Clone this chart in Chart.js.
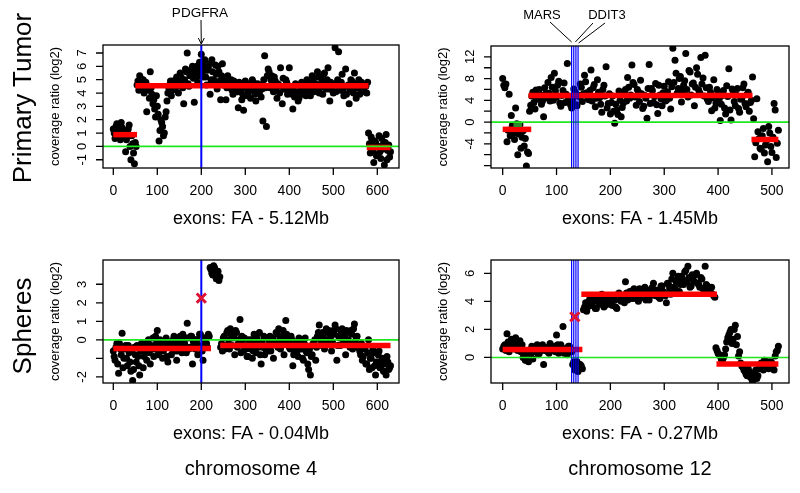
<!DOCTYPE html>
<html>
<head>
<meta charset="utf-8">
<script src="https://cdn.jsdelivr.net/npm/chart.js@4.4.1/dist/chart.umd.min.js"></script>
<style>
  body { margin: 0; background: #fff; }
  #fig { position: relative; width: 800px; height: 493px; background: #fff;
         font-family: "Liberation Sans", Arial, Helvetica, sans-serif; color: #000; }
  #fig canvas { position: absolute; left: 0; top: 0; }
  .lab { position: absolute; white-space: nowrap; transform: translate(-50%, -50%); line-height: 1; }
  .rot { transform: translate(-50%, -50%) rotate(-90deg); }
</style>
</head>
<body>
<div id="fig">
  <canvas id="p1" width="800" height="493"></canvas>
  <canvas id="p2" width="800" height="493"></canvas>
  <canvas id="p3" width="800" height="493"></canvas>
  <canvas id="p4" width="800" height="493"></canvas>
  <div class="lab rot" style="left:22px;top:98px;font-size:26px">Primary Tumor</div>
  <div class="lab rot" style="left:22px;top:326px;font-size:26px">Spheres</div>
  <div class="lab" style="left:251px;top:468px;font-size:20px">chromosome 4</div>
  <div class="lab" style="left:640px;top:468px;font-size:20px">chromosome 12</div>
</div>
<script>
// values: "A" arrays sit on exons 0,4,8,... and "B" arrays on exons 2,6,10,...
const EXON_STEP = 4;

const tumorChr4A = [
  1.3, 0.6, 1.7, 1.0, 0.5, 1.4, 0.8, -0.4, 1.2, 1.6, -1.0, 0.2, -1.3, 0.0,
  4.9, 5.3, 4.4, 5.0, 4.7, 2.6, 4.2, 5.6, 3.9, 3.5, 2.2, 3.0, 0.4, 2.0, 1.5, 1.0, 2.6,
  4.0, 4.6, 3.8, 4.9, 4.3, 5.2, 4.0, 5.5, 4.7, 3.2, 5.8, 7.0, 4.5, 5.4, 6.0, 3.3, 5.7, 4.8, 6.3,
  6.9, 5.2, 6.5, 4.6, 5.9, 3.9, 6.5, 5.0, 6.1, 4.3, 5.6, 3.5, 6.2, 4.7, 3.5,
  5.3, 4.4, 5.0, 3.9, 4.8, 4.1, 2.9, 4.6, 3.5, 2.7,
  4.9, 3.8, 4.5, 3.6, 5.0, 4.2, 3.4, 4.7, 4.0, 3.7, 1.9, 6.8, 1.5, 5.8, 4.4, 5.3, 4.1, 4.9, 3.6, 4.6,
  5.9, 3.2, 4.3, 5.0, 3.9, 5.9, 4.4, 2.8, 3.7, 4.6, 3.4, 4.1, 4.8, 3.9, 4.4, 5.0, 4.2, 3.8, 5.3, 4.1,
  4.7, 5.6, 4.0, 5.2, 3.9, 5.5, 4.3, 5.9, 3.4, 4.6, 4.0, 7.4, 4.8, 7.1, 4.2, 5.4, 3.8, 5.8, 4.5, 3.2,
  5.0, 4.1, 5.5, 3.6, 4.4, 3.9, 4.8, 4.2, 4.6, 4.0,
  1.0, -0.5, 0.5, -1.2, 0.3, -0.6, 0.8, -0.9, 0.1, -1.4, 0.9, -0.3, -0.8
];
const tumorChr4B = [
  1.0, 1.5, 0.7, 1.2, 1.8, 0.9, 1.1, 0.5, 1.3, 0.0, 0.8, -0.5, 0.3,
  4.6, 4.2, 5.1, 4.5, 4.0, 4.8, 4.3, 3.6, 4.4, 3.2, 2.8, 3.8, 2.4, 1.2, 1.8, 0.8, 2.2, 3.4,
  4.4, 4.9, 4.2, 4.6, 5.0, 4.5, 4.8, 5.2, 4.4, 5.0, 5.6, 4.7, 5.3, 5.8, 5.1, 5.5, 6.0, 5.3, 5.8,
  5.5, 6.0, 5.2, 5.7, 6.2, 5.0, 5.6, 4.8, 5.4, 6.0, 4.9, 5.3, 4.6, 5.1, 4.4, 5.0, 4.7, 4.2, 4.9, 4.5,
  4.1, 4.8, 4.3, 3.9, 4.6,
  4.4, 4.0, 4.7, 4.2, 4.8, 3.9, 4.5, 4.1, 4.6, 4.3, 5.0, 4.4, 5.3, 5.6, 5.0, 4.6, 5.2, 4.2, 4.7, 4.0,
  4.5, 5.1, 4.3, 4.8, 4.1,
  4.5, 3.9, 4.2, 4.7, 4.0, 3.6, 4.4, 4.1, 4.5, 3.8, 4.3, 4.7, 4.4, 4.9, 4.2, 4.6, 5.2, 4.4, 4.9, 5.4,
  4.5, 5.0, 4.3, 4.8, 4.2,
  4.6, 4.1, 5.0, 4.4, 4.8, 4.2, 4.5, 3.9, 4.6, 4.3, 4.9, 4.0, 4.7, 4.4, 5.0, 4.3, 4.6, 4.1, 4.5, 4.8,
  0.2, 0.7, -0.3, 0.4, -0.7, 0.0, -0.4, 0.6, -0.2, 0.3, -1.0, 0.1, -0.4
];

const tumorChr12A = [
  8.0, 6.3, -3.6, 5.1, 1.2, -2.0, 2.6, -6.0, -0.5, -2.8, -4.4, -8.1, -5.8,
  3.1, 5.5, 2.4, 4.5, 6.0, 3.3, 1.0, 5.2, 7.3, 3.9, 6.4, 9.0, 4.6, 7.5, 2.9, 5.8, 3.6, 10.8, 4.2,
  2.6, 6.1, 3.2, 5.0, 7.0, 3.8, 8.6, 5.4, 4.1, 9.6, 6.3, 2.8, 7.8, 4.5, 1.8, 6.8, 10.2, 3.4,
  1.5, 4.8, -0.2, 2.2, 5.7, 1.0, 3.5, 6.0, 8.2, 4.4, 10.5, 6.9, 3.1, 5.6, 7.7, 2.5, 4.9, 0.7,
  10.6, 6.2, 3.6, 7.1, 1.6, 5.0, 3.0, 6.6, 4.0, 7.4, 2.4, 13.6, 11.4, 5.3, 8.0, 3.7, 6.8,
  12.6, 4.6, 9.2, 7.0, 3.0, 10.0, 5.9, 11.9, 8.1, 12.3, 4.2, 6.4, 2.1, 7.8, 3.5, 5.6, 0.3,
  4.9, 2.6, 6.7, 9.8, 0.4, 5.2, 3.0, 6.2, 1.8, 4.4, 7.0, 2.8, 5.5, 3.6, 8.3,
  -6.4, 4.3, -3.0, -5.0, -1.2, -4.2, -7.3, -2.0, -5.6, 3.4, -6.5, -1.5
];
const tumorChr12B = [
  6.8, 7.0, -1.5, -2.5, -0.6, -3.2, -0.3, -2.2, -4.8, -1.6, -3.0, -5.5, 2.0,
  4.8, 3.6, 5.9, 4.2, 5.0, 3.9, 6.3, 4.5, 5.3, 8.2, 4.0, 5.7, 6.8, 3.5, 4.9, 7.2, 5.1, 4.3, 3.2,
  4.1, 5.6, 3.0, 4.7, 6.4, 5.2, 7.4, 4.6, 5.8, 3.9, 6.9, 4.4, 5.5, 3.3, 6.0, 4.8, 2.6, 5.2, 3.6,
  2.0, 3.3, 1.4, 4.0, 2.7, 5.4, 3.9, 6.4, 5.0, 7.3, 4.6, 6.0, 3.8, 5.2, 2.9, 4.4, 6.2, 3.4, 5.8, 4.7,
  3.2, 6.8, 4.3, 5.4, 3.9,
  5.6, 4.4, 6.5, 7.3, 9.0, 6.2, 8.4, 5.7, 7.6, 6.0, 9.5, 5.0, 7.2, 6.4, 8.8, 5.4, 7.0, 4.8, 6.3, 3.8,
  5.5, 4.5, 2.6, 6.0, 4.2,
  3.3, 5.8, 1.5, 4.7, 2.2, 6.1, 3.8, 5.0, 2.5, 4.2, 6.3, 3.4, 5.1, 2.0, 4.0,
  0.6, -3.8, -1.8, -4.8, -2.5, -5.7, -3.4, -0.8, -4.5, -2.8, 2.2, -3.9
];

const spheresChr4A = [
  -0.6, -1.1, -0.2, -1.8, -0.5, 0.35, -1.0, -0.3, -1.4, -0.7, -1.7, -2.2, -0.4, -1.2, -0.9,
  -1.9, -0.2, -1.5, -0.6, -1.1, 0.0, -1.3, -0.5, -0.9, 0.2, 0.5, -0.7, -0.1, -1.0, -0.4,
  0.1, -1.2, -0.3, -0.8, 0.0, -0.6, -1.1, -0.2, 0.2, -0.7, -0.4, 0.1, 0.9, -0.5, 0.2,
  -1.3, -0.3, 0.0, -0.8, 0.3, -0.5, -1.1, 0.1, -0.2, 0.3,
  3.9, 3.6, 4.0, 3.7, 3.4, 3.2,
  -0.4, -0.6, 0.2, -0.3, 0.5, -0.5, 0.3, 0.1, -0.8, 0.4, -0.2, 1.1, 0.2, -0.6,
  -0.3, -0.9, 0.0, -0.5, -1.0, 0.3, -0.7, -0.1, 0.4, -1.3, -0.4, -0.8, 0.1, -0.6, 0.2,
  -0.3, -1.0, -0.2, 0.3, 0.6, -0.5, 0.2, -0.8, 1.05, 0.1,
  -0.4, 0.2, -1.4, -0.6, -0.1, -0.9, 0.0, -0.5, -1.1, 0.1, -0.7, -1.6, -1.9, -0.8, -0.3,
  -1.1, 0.2, 0.8, -0.2, 0.4, -0.5, 0.6, -0.1, 0.3, -0.6, 0.5, 0.8, -1.1, 0.2, -0.3,
  0.6, 0.0, -0.8, 0.4, -0.2, 0.5, -0.5, 0.85, 0.1, -0.4,
  -0.6, -0.2, -0.9, -0.5, -1.3, 0.0, -1.0, -1.5, -0.7, -1.9, -1.2, -0.6, -1.4, -1.0,
  -1.7, -1.9, -1.2, -1.5
];
const spheresChr4B = [
  -0.9, -0.4, -1.3, -0.2, -0.8, -1.5, -0.5, -1.0, -0.3, -1.2, -0.6, -1.6, -0.8,
  -0.3, -1.4, -0.6, -0.2, -0.9, -0.4, -0.1, -0.7, -0.3, 0.1, -0.5, -0.2, -0.8, 0.0, -0.4, -0.6,
  -0.1, -0.9, -0.3,
  -0.1, -0.5, 0.2, -0.3, -0.6, 0.0, -0.4, 0.3, -0.2, -0.7, 0.1, -0.4, 0.2, -0.1, -0.5, 0.0, -0.3,
  0.3, -0.6, -0.2, 0.1, -0.4, 0.2,
  3.8, 3.5, 3.9, 3.3, 3.7, 3.4,
  -0.2, 0.1, -0.5, 0.4, 0.0, 0.6, -0.3, 0.2, 0.5, -0.4, 0.0, -0.7, -0.2, 0.1, -0.5, -0.9, -0.3, 0.0,
  -0.6, -0.2, 0.1, -0.4, -0.8, -0.1, 0.2, -0.5, -0.3, 0.0, -0.6, 0.1, -0.2, 0.4, -0.4, 0.0, -0.3,
  0.5, -0.1, 0.3, -0.2,
  -0.5, 0.0, -0.8, -0.3, -0.6, 0.1, -0.4, -1.0, -0.2, -0.6, -1.3, -0.5, -0.9, -0.2, 0.0, -0.4, 0.4,
  0.1, -0.3, 0.3, 0.0, -0.2, 0.5, 0.2, -0.1,
  0.3, 0.6, -0.3, 0.1, 0.4, -0.2, 0.2, 0.5, 0.0, -0.4, 0.3, 0.6, -0.1, 0.2, -0.3,
  -0.8, -1.1, -0.4, -1.3, -0.7, -1.6, -1.0, -0.5, -1.4, -1.2, -0.8, -1.5, -1.1, -1.7, -1.3, -0.9,
  -1.6, -1.4
];

const spheresChr12A = [
  0.6, 0.9, 1.7, 0.4, 1.3, 0.8, 1.4, 0.5, 1.2, 0.9, 0.1, -0.2, -0.3, 0.2, -0.1,
  0.6, 0.9, 0.3, 0.8, -0.5, 0.7, 0.4, 1.0, 0.5, 0.8, 1.6, 0.3, 0.9, 2.2, 0.6, 0.2, 0.8,
  0.4, -0.3, -0.7, -1.0, -0.5, -0.8,
  3.6, 3.3, 4.0, 3.7, 4.3, 3.5, 4.1, 3.8, 4.5, 3.6, 4.2, 3.9, 4.4, 3.7, 4.1, 3.5,
  4.6, 4.0, 4.3, 5.4, 4.1, 4.7, 4.2, 4.9, 4.4, 4.0, 4.8, 4.3, 5.0, 4.5, 4.1, 4.9,
  5.3, 4.4, 4.8, 4.2, 5.1, 4.6, 3.9, 5.2, 4.5, 6.0, 4.9, 5.5, 4.7, 5.8, 5.2, 6.2,
  6.5, 5.0, 5.9, 5.4, 6.0, 5.2, 5.7, 4.9, 6.5, 5.1, 4.6, 5.0, 4.4,
  0.7, 0.3, 0.1, -0.2, 0.2, 1.1, 1.6, 2.0, 1.3, 2.3, 1.5, 0.4,
  -0.6, -0.9, -1.2, -0.8, -1.4, -1.7, -1.1, -1.5, -0.8, -0.4, -0.9, -0.5, -0.3,
  -0.7, -0.4, -0.9, 0.4, 0.8
];
const spheresChr12B = [
  0.8, 0.5, 1.1, 0.7, 1.0, 0.6, 1.2, 0.9, 0.4, 0.0, -0.2, 0.3, 0.5, 0.8, 0.4, 0.7,
  0.2, 0.6, 0.9, 0.5, 0.7, 0.3, 0.8, 0.6, 0.4, 0.9, 0.5, 0.7, 0.3, 0.6, 0.8, 0.5,
  -0.5, -0.9, -0.3, -0.8, -0.6,
  3.4, 3.9, 3.6, 4.2, 3.8, 4.0, 3.5, 4.3, 3.9, 4.1, 3.7, 4.4, 3.8, 4.0, 4.2, 3.6, 4.5, 4.1, 4.3, 3.9,
  4.6, 4.2, 4.4, 4.8, 4.2, 4.5, 4.9, 4.3, 4.6, 4.1, 4.7, 4.4, 5.0, 4.5, 4.8, 4.3, 5.1, 4.7, 4.4, 5.3,
  4.9, 5.6, 5.0, 5.4, 5.8, 5.2, 5.6, 6.1, 5.4, 5.7, 5.1, 5.5, 5.9, 5.3, 5.0, 5.6, 4.8, 5.2, 4.7, 4.9,
  4.5, 4.3,
  0.5, 0.2, -0.1, 0.0, 0.6, 1.4, 1.8, 1.0, 2.0, 0.9, 0.1, -0.4, -0.7, -1.0, -1.3, -1.0, -1.5, -1.2,
  -0.9, -1.3, -0.6, -0.7, -0.2, -0.5, -0.8, -0.3, -0.6, 0.1, 0.5
];

// segment means: [first exon, last exon, log2 ratio]
const tumorChr4Segments    = [[0, 54, 0.88], [50, 580, 4.55], [576, 630, -0.08]];
const tumorChr12Segments   = [[0, 53, -1.34], [48, 464, 4.9], [462, 512, -3.2]];
const spheresChr4Segments  = [[0, 222, -0.47], [243, 630, -0.3]];
const spheresChr12Segments = [[0, 148, 0.57], [146, 398, 4.5], [397, 512, -0.47]];

// a short green sub-segment visible in the tumour chr12 panel
const tumorChr12SubSegments = [[20, 36, -0.45]];

// gene positions (exon index)
const pdgfra = [200];
const marsDdit3 = [128, 132, 136, 140];

// single red cross marks
const spheresChr4Mark = [200, 2.25];
const spheresChr12Mark = [134, 2.9];

// ticks
const chr4Ticks = [0, 100, 200, 300, 400, 500, 600];
const chr12Ticks = [0, 100, 200, 300, 400, 500];
const tumorChr4YTicks = [-1, 0, 1, 2, 3, 4, 5, 6, 7];
const tumorChr4YLabels = [-1, 0, 1, 2, 3, 4, 5, 6, 7];
const tumorChr12YTicks = [-8, -6, -4, -2, 0, 2, 4, 6, 8, 10, 12];
const tumorChr12YLabels = [-4, 0, 4, 8, 12];
const spheresChr4YTicks = [-2, -1, 0, 1, 2, 3];
const spheresChr4YLabels = [-2, 0, 1, 2, 3];
const spheresChr12YTicks = [0, 2, 4, 6];
const spheresChr12YLabels = [0, 2, 4, 6];

const FONT = '"Liberation Sans", Arial, Helvetica, sans-serif';

// R-style box, outward ticks, rotated y labels, titles, gene notes
const rAxes = {
  id: 'rAxes',
  afterDatasetsDraw(chart, args, o) {
    const { ctx, chartArea: a } = chart;
    const x = chart.scales.x, y = chart.scales.y;
    ctx.save();
    ctx.strokeStyle = '#000';
    ctx.fillStyle = '#000';
    ctx.lineWidth = 1.3;
    ctx.strokeRect(a.left, a.top, a.right - a.left, a.bottom - a.top);

    ctx.beginPath();
    o.xTicks.forEach(v => {
      const px = x.getPixelForValue(v);
      ctx.moveTo(px, a.bottom); ctx.lineTo(px, a.bottom + 7);
    });
    o.yTicks.forEach(v => {
      const py = y.getPixelForValue(v);
      ctx.moveTo(a.left, py); ctx.lineTo(a.left - 7, py);
    });
    ctx.stroke();

    ctx.textAlign = 'center';
    ctx.textBaseline = 'middle';
    ctx.font = '14px ' + FONT;
    o.xTicks.forEach(v => ctx.fillText(String(v), x.getPixelForValue(v), a.bottom + 23));

    ctx.font = '13px ' + FONT;
    o.yLabels.forEach(v => {
      ctx.save();
      ctx.translate(a.left - 21, y.getPixelForValue(v));
      ctx.rotate(-Math.PI / 2);
      ctx.fillText(String(v), 0, 0);
      ctx.restore();
    });

    ctx.save();
    ctx.font = '13px ' + FONT;
    ctx.translate(a.left - 48, (a.top + a.bottom) / 2);
    ctx.rotate(-Math.PI / 2);
    ctx.fillText(o.yTitle, 0, 0);
    ctx.restore();

    ctx.font = '18px ' + FONT;
    ctx.fillText(o.xTitle, (a.left + a.right) / 2, a.bottom + 51);

    (o.notes || []).forEach(n => {
      ctx.font = n.size + 'px ' + FONT;
      ctx.fillText(n.text, n.tx, n.ty);
      ctx.lineWidth = 1;
      n.lines.forEach(l => {
        const gx = x.getPixelForValue(l[2]);
        const gy = a.top - l[3];
        ctx.beginPath();
        ctx.moveTo(l[0], l[1]);
        ctx.lineTo(gx, gy);
        ctx.stroke();
        if (n.arrow) {
          ctx.beginPath();
          ctx.moveTo(gx - 3, gy - 6); ctx.lineTo(gx, gy); ctx.lineTo(gx + 3, gy - 6);
          ctx.stroke();
        }
      });
    });
    ctx.restore();
  }
};

function exonPoints(values, first) {
  return values.map((v, i) => ({ x: first + i * EXON_STEP, y: v }));
}

function buildDatasets(a, b, segs, subSegs, genes, geneWidth, xlim, ylim, mark) {
  const ds = [{
    type: 'scatter',
    data: exonPoints(a, 0).concat(exonPoints(b, 2)),
    pointRadius: 3.5, pointBackgroundColor: '#000', pointBorderWidth: 0, order: 5
  }];
  segs.forEach(s => ds.push({
    type: 'line', data: [{ x: s[0], y: s[2] }, { x: s[1], y: s[2] }],
    borderColor: '#ff0000', borderWidth: 5.5, pointRadius: 0, order: 4
  }));
  subSegs.forEach(s => ds.push({
    type: 'line', data: [{ x: s[0], y: s[2] }, { x: s[1], y: s[2] }],
    borderColor: '#2f8a2f', borderWidth: 5, pointRadius: 0, order: 3
  }));
  ds.push({
    type: 'line', data: [{ x: xlim[0], y: 0 }, { x: xlim[1], y: 0 }],
    borderColor: '#1fe61f', borderWidth: 1.6, pointRadius: 0, order: 2
  });
  genes.forEach(g => ds.push({
    type: 'line', data: [{ x: g, y: ylim[0] }, { x: g, y: ylim[1] }],
    borderColor: '#0000ff', borderWidth: geneWidth, pointRadius: 0, order: 1
  }));
  if (mark) ds.push({
    type: 'scatter', data: [{ x: mark[0], y: mark[1] }],
    pointStyle: 'crossRot', pointRadius: 6.5, pointBorderColor: '#dd1133',
    pointBorderWidth: 3, order: 0
  });
  return ds;
}

function panel(id, box, xlim, ylim, datasets, axes) {
  return new Chart(document.getElementById(id), {
    type: 'scatter',
    data: { datasets },
    options: {
      responsive: false,
      animation: false,
      devicePixelRatio: 1,
      events: [],
      layout: { padding: { left: box[0], top: box[1], right: 800 - box[2], bottom: 493 - box[3] } },
      scales: {
        x: { type: 'linear', min: xlim[0], max: xlim[1], display: false },
        y: { type: 'linear', min: ylim[0], max: ylim[1], display: false }
      },
      plugins: { legend: { display: false }, tooltip: { enabled: false }, rAxes: axes }
    },
    plugins: [rAxes]
  });
}

const xlimChr4 = [-23.4, 649.3];
const xlimChr12 = [-21.7, 531.7];

panel('p1', [103, 45, 399, 168], xlimChr4, [-1.62, 7.6],
  buildDatasets(tumorChr4A, tumorChr4B, tumorChr4Segments, [], pdgfra, 2, xlimChr4, [-1.62, 7.6]),
  { xTicks: chr4Ticks, yTicks: tumorChr4YTicks, yLabels: tumorChr4YLabels,
    yTitle: 'coverage ratio (log2)', xTitle: 'exons: FA - 5.12Mb',
    notes: [{ text: 'PDGFRA', size: 13.5, tx: 200, ty: 13, arrow: true, lines: [[201, 20, 200, 1]] }] });

panel('p2', [491, 46, 789, 168], xlimChr12, [-8.45, 14.0],
  buildDatasets(tumorChr12A, tumorChr12B, tumorChr12Segments, tumorChr12SubSegments, marsDdit3, 1.2, xlimChr12, [-8.45, 14.0]),
  { xTicks: chr12Ticks, yTicks: tumorChr12YTicks, yLabels: tumorChr12YLabels,
    yTitle: 'coverage ratio (log2)', xTitle: 'exons: FA - 1.45Mb',
    notes: [
      { text: 'MARS', size: 13, tx: 542, ty: 15, lines: [[550, 22, 128, 4]] },
      { text: 'DDIT3', size: 13, tx: 607, ty: 15, lines: [[593, 23, 135, 4], [605, 23, 141, 3]] }
    ] });

panel('p3', [103, 260, 399, 383], xlimChr4, [-2.33, 4.31],
  buildDatasets(spheresChr4A, spheresChr4B, spheresChr4Segments, [], pdgfra, 2, xlimChr4, [-2.33, 4.31], spheresChr4Mark),
  { xTicks: chr4Ticks, yTicks: spheresChr4YTicks, yLabels: spheresChr4YLabels,
    yTitle: 'coverage ratio (log2)', xTitle: 'exons: FA - 0.04Mb' });

panel('p4', [491, 260, 789, 383], xlimChr12, [-1.82, 6.95],
  buildDatasets(spheresChr12A, spheresChr12B, spheresChr12Segments, [], marsDdit3, 1.2, xlimChr12, [-1.82, 6.95], spheresChr12Mark),
  { xTicks: chr12Ticks, yTicks: spheresChr12YTicks, yLabels: spheresChr12YLabels,
    yTitle: 'coverage ratio (log2)', xTitle: 'exons: FA - 0.27Mb' });
</script>
</body>
</html>
